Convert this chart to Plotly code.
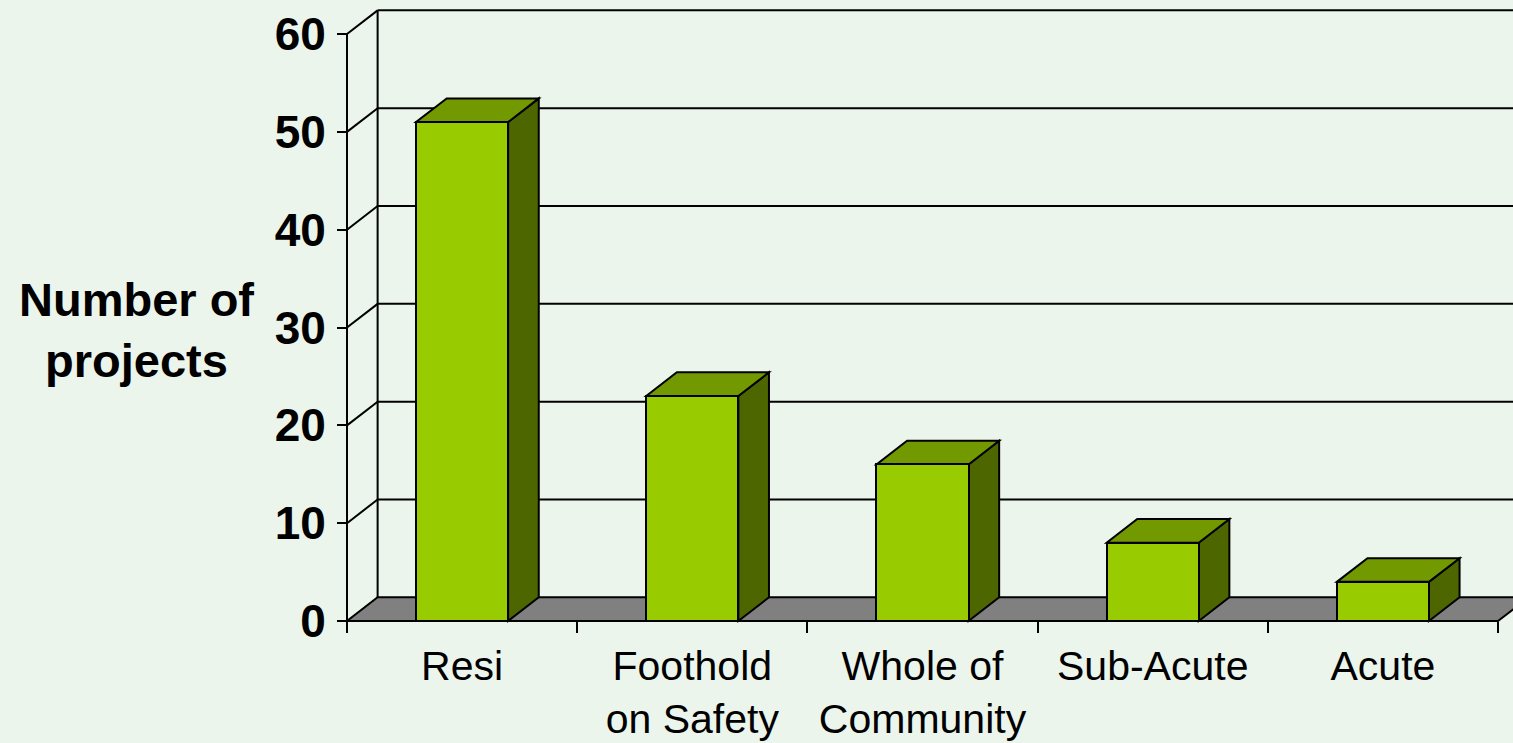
import plotly.graph_objects as go

categories = ["Resi", "Foothold<br>on Safety", "Whole of<br>Community", "Sub-Acute", "Acute"]
values = [51, 23, 16, 8, 4]
y_ticks = [0, 10, 20, 30, 40, 50, 60]
y_title = "Number of<br>projects"

# styling / geometry
FRONT = "#99CC00"
TOP = "#739900"
SIDE = "#4D6600"
FLOOR = "#808080"
BG = "#EBF5EC"
W = 0.4          # bar width in category units
DX = 0.133       # depth offset (x, category units)
DY = 2.42        # depth offset (y, data units)
LW = 2

W_PX, H_PX = 1513, 743
ML, MR, MT, MB = 342, 0, 8, 119
PXX = 230.2   # px per category
PXY = 9.783   # px per y unit
plot_w = W_PX - ML - MR
plot_h = H_PX - MT - MB
x0 = -0.5 - 5 / PXX
x1 = x0 + plot_w / PXX
y0 = -3 / PXY
y1 = y0 + plot_h / PXY

n = len(categories)
xs = list(range(n))
ymax = max(y_ticks)

shapes = []
line = dict(color="black", width=LW)

# floor
shapes.append(dict(type="path", xref="x", yref="y", layer="below",
                   path=f"M {-0.5} 0 L {n-0.5} 0 L {n-0.5+DX} {DY} L {-0.5+DX} {DY} Z",
                   fillcolor=FLOOR, line=line))
# back wall gridlines and side diagonals
for t in y_ticks[1:]:
    shapes.append(dict(type="line", xref="x", yref="y", layer="below",
                       x0=-0.5 + DX, y0=t + DY, x1=x1 + 1, y1=t + DY, line=line))
    shapes.append(dict(type="line", xref="x", yref="y", layer="below",
                       x0=-0.5, y0=t, x1=-0.5 + DX, y1=t + DY, line=line))
# back wall left edge
shapes.append(dict(type="line", xref="x", yref="y", layer="below",
                   x0=-0.5 + DX, y0=DY, x1=-0.5 + DX, y1=ymax + DY, line=line))
# front y axis line
shapes.append(dict(type="line", xref="x", yref="y", layer="above",
                   x0=-0.5, y0=0, x1=-0.5, y1=ymax, line=line))
# bar tops and sides
for x, v in zip(xs, values):
    l, r = x - W / 2, x + W / 2
    shapes.append(dict(type="path", xref="x", yref="y", layer="below",
                       path=f"M {r} 0 L {r+DX} {DY} L {r+DX} {v+DY} L {r} {v} Z",
                       fillcolor=SIDE, line=line))
    shapes.append(dict(type="path", xref="x", yref="y", layer="below",
                       path=f"M {l} {v} L {r} {v} L {r+DX} {v+DY} L {l+DX} {v+DY} Z",
                       fillcolor=TOP, line=line))

fig = go.Figure()
fig.add_trace(go.Bar(x=xs, y=values, width=W, base=0,
                     marker=dict(color=FRONT, line=dict(color="black", width=LW)),
                     hoverinfo="y", showlegend=False))
# invisible trace on the tick-mark axis
fig.add_trace(go.Scatter(x=[0], y=[0], xaxis="x2", mode="markers",
                         marker=dict(opacity=0), hoverinfo="skip", showlegend=False))

FONT = "Arial, Liberation Sans, sans-serif"
xpos = 3 / plot_h
ypos = 5 / plot_w
fig.update_layout(
    width=W_PX, height=H_PX,
    margin=dict(l=ML, r=MR, t=MT, b=MB, autoexpand=False),
    paper_bgcolor=BG, plot_bgcolor=BG,
    font=dict(family=FONT, color="black"),
    shapes=shapes,
    xaxis=dict(range=[x0, x1], tickvals=xs, ticktext=categories, ticks="",
               showgrid=False, zeroline=False, showline=False,
               anchor="free", position=xpos,
               tickfont=dict(size=41, family=FONT),
               ticklabelstandoff=17),
    xaxis2=dict(range=[x0, x1], overlaying="x", anchor="free", position=xpos,
                side="bottom",
                tickvals=[i - 0.5 for i in range(n + 1)], ticks="outside",
                ticklen=11, tickwidth=LW, tickcolor="black",
                showticklabels=False, showgrid=False, zeroline=False, showline=False),
    yaxis=dict(range=[y0, y1], tickvals=y_ticks, ticks="outside", ticklen=10,
               tickwidth=LW, tickcolor="black", showgrid=False, zeroline=False,
               showline=False, anchor="free", position=ypos,
               tickfont=dict(size=46, family=FONT, weight="bold"),
               ticklabelstandoff=2),
    annotations=[dict(text=f"<b>{y_title}</b>", xref="paper", yref="paper",
                      x=(136 - ML) / plot_w, y=(H_PX - MB - 330) / plot_h,
                      xanchor="center", yanchor="middle", showarrow=False,
                      font=dict(size=47, family=FONT))],
    bargap=0,
)
fig.write_html("out.html", config={"displayModeBar": False},
               post_script="document.body.style.margin='0';document.body.style.overflow='hidden';")
